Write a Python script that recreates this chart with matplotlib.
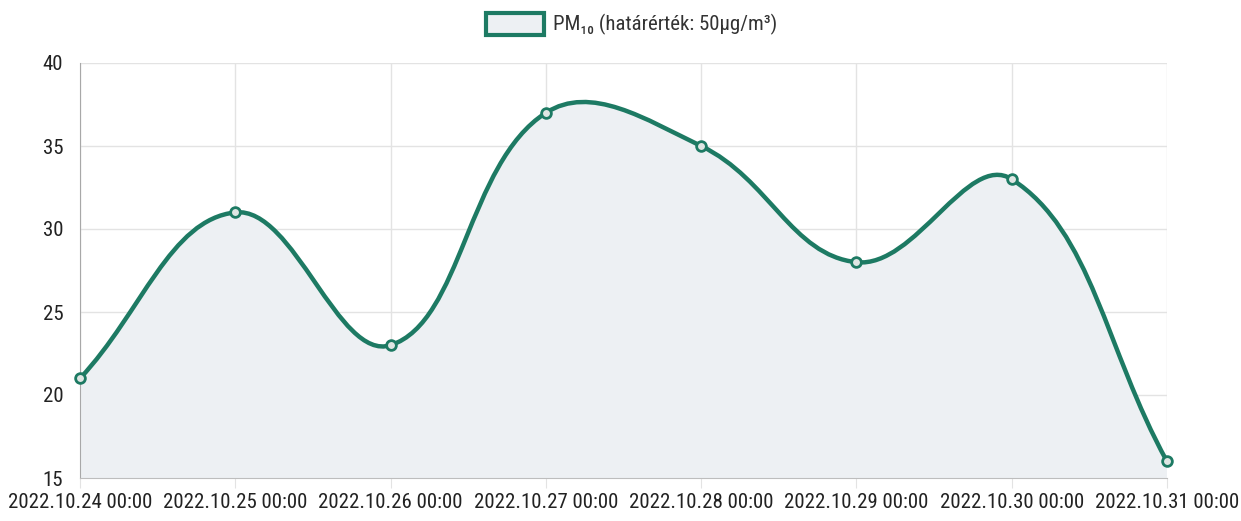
import matplotlib
matplotlib.use("Agg")
import matplotlib.pyplot as plt
from matplotlib import font_manager
from matplotlib.path import Path
from matplotlib.patches import PathPatch, Rectangle
import numpy as np

labels = ["2022.10.24 00:00", "2022.10.25 00:00", "2022.10.26 00:00", "2022.10.27 00:00",
          "2022.10.28 00:00", "2022.10.29 00:00", "2022.10.30 00:00", "2022.10.31 00:00"]
pm10 = [21, 31, 23, 37, 35, 28, 33, 16]
yticks = [15, 20, 25, 30, 35, 40]
legend_label = "PM₁₀ (határérték: 50μg/m³)"

names = {f.name for f in font_manager.fontManager.ttflist}
narrow = [n for n in ["Liberation Sans Narrow", "Roboto Condensed", "Open Sans Condensed"] if n in names]
main_font = narrow[0] if narrow else "Liberation Sans"
plt.rcParams['font.family'] = [main_font, 'DejaVu Sans']
lab_size = 15 if narrow else 13.3
leg_size = 15 if narrow else 13

LINE = '#1d7a63'
FILL = '#edf0f3'
GRID = '#e3e3e3'

fig = plt.figure(figsize=(12.41, 5.21), dpi=100)
ax = fig.add_axes([80/1241, 1-478/521, (1167-80)/1241, (478-63)/521])
ax.set_xlim(0, len(pm10)-1)
ax.set_ylim(15, 40)

# Chart.js style spline (tension 0.4) computed in pixel space
x = np.arange(len(pm10), dtype=float)
pts = ax.transData.transform(np.column_stack([x, pm10]))
t = 0.4
n = len(pts)
cps_prev = []
cps_next = []
for i in range(n):
    cur = pts[i]
    prev = pts[i-1] if i > 0 else cur
    nxt = pts[i+1] if i < n-1 else cur
    d01 = np.hypot(*(cur-prev))
    d12 = np.hypot(*(nxt-cur))
    tot = d01 + d12
    s01 = d01/tot if tot else 0
    s12 = d12/tot if tot else 0
    cps_prev.append(cur - t*s01*(nxt-prev))
    cps_next.append(cur + t*s12*(nxt-prev))
verts = [pts[0]]
codes = [Path.MOVETO]
for i in range(n-1):
    verts += [cps_next[i], cps_prev[i+1], pts[i+1]]
    codes += [Path.CURVE4]*3
inv = ax.transData.inverted()
dverts = inv.transform(np.array(verts))
curve = Path(dverts, codes)
fverts = list(dverts) + [[x[-1], 15], [x[0], 15], dverts[0]]
fcodes = codes + [Path.LINETO, Path.LINETO, Path.CLOSEPOLY]
ax.add_patch(PathPatch(Path(fverts, fcodes), facecolor=FILL, edgecolor='none', zorder=1))
ax.add_patch(PathPatch(curve, facecolor='none', edgecolor=LINE, lw=3.2, zorder=3, capstyle='round'))
ax.plot(x, pm10, 'o', ms=7, mfc='#dfe6e3', mec=LINE, mew=2, zorder=4, clip_on=False)

ax.set_xticks(x)
ax.set_xticklabels(labels)
ax.set_yticks(yticks)
ax.grid(True, color=GRID, lw=1, zorder=0)
ax.set_axisbelow(True)
for s in ['top', 'right']:
    ax.spines[s].set_visible(False)
ax.spines['left'].set_color('#a8a8a8')
ax.spines['bottom'].set_color('#bdbdbd')
ax.tick_params(axis='x', length=7, color=GRID, pad=4, labelsize=lab_size, labelcolor='#222222')
ax.tick_params(axis='y', length=0, pad=12, labelsize=lab_size, labelcolor='#222222')

# legend
fig.patches.append(Rectangle((486/1241, 1-35/521), 58/1241, 22/521, transform=fig.transFigure,
                             facecolor=FILL, edgecolor=LINE, lw=3))
fig.text(553/1241, 1-24/521, legend_label, fontsize=leg_size, color='#333333', va='center', ha='left')

fig.savefig("out.png", dpi=100)
